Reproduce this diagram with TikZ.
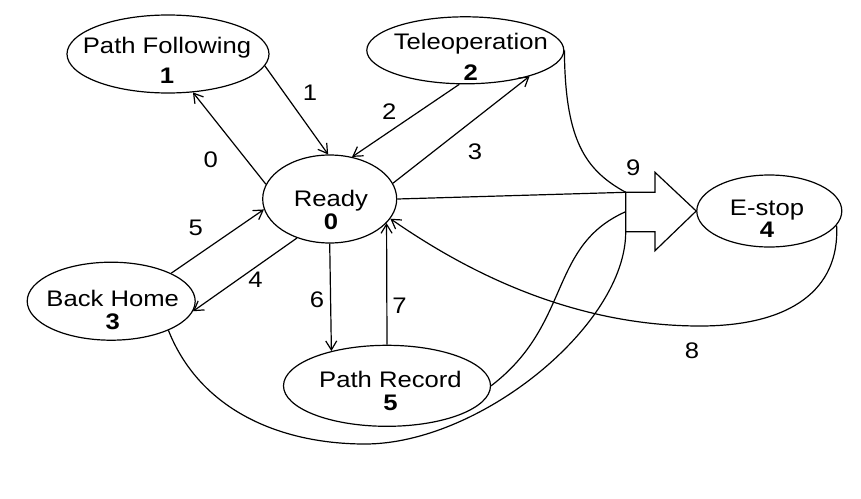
\documentclass[tikz,border=0pt]{standalone}
\usepackage{fontspec}
\setmainfont{Liberation Sans}[FakeStretch=1.14]
\usetikzlibrary{arrows.meta,shapes.geometric}

\begin{document}
\begin{tikzpicture}[x=1pt, y=-1pt, line width=1.2pt, >={Straight Barb[length=9pt,width=11pt]},
    estado/.style={draw, ellipse, inner sep=0pt},
    texto/.style={font=\fontsize{22.5}{23}\selectfont, align=center, inner sep=0pt},
    etiqueta/.style={font=\fontsize{22.5}{23}\selectfont, inner sep=0pt}]
            \useasboundingbox (0,0) rectangle (861,498);

            % Estados
            \node[estado, minimum width=202pt, minimum height=78pt] (seguir) at (168,54) {};
            \node[estado, minimum width=197pt, minimum height=67pt] (teleop) at (465.3,50.3) {};
            \node[estado, minimum width=134pt, minimum height=88pt] (listo) at (329.7,199) {};
            \node[estado, minimum width=145pt, minimum height=72pt] (parada) at (769.3,211) {};
            \node[estado, minimum width=168pt, minimum height=78pt] (casa) at (111.2,301.2) {};
            \node[estado, minimum width=207pt, minimum height=81pt] (grabar) at (387,385.8) {};

            \node[texto] (seguirT) at (167,60) {Path Following\\[7pt]\textbf{1}};
            \node[texto] (teleopT) at (470.8,56.5) {Teleoperation\\[7.7pt]\textbf{2}};
            \node[texto] (listoT) at (331,210) {Ready\\\textbf{0}};
            \node[texto] (paradaT) at (767,219.2) {E-stop\\[-1pt]\textbf{4}};
            \node[texto] (casaT) at (112.7,310) {Back Home\\\textbf{3}};
            \node[texto] (grabarT) at (390.5,391.3) {Path Record\\\textbf{5}};

            % Flecha grande hacia E-stop
            \coordinate (f1) at (625.7,192.3);
            \coordinate (f2) at (625.7,211.7);
            \coordinate (f3) at (625.7,231.7);
            \draw (f1) -- (655,192.3) -- (655,172.3) -- (parada.west) -- (655,250.7) -- (655,231.7) -- (f3) -- cycle;

            % Transiciones
            \draw[->] (listo.167) -- (seguir.-57);
            \draw[->] (seguir.-7) -- (listo.92);
            \draw[->] (teleop.-100) -- (listo.62);
            \draw[->] (listo.14) -- (teleop.-22);
            \draw[->] (casa.25) -- (listo.189);
            \draw[->] (listo.230) -- (casa.-7);
            \draw[->] (listo.270) -- (grabar.148);
            \draw[->] (grabar.90) -- (listo.-23);
            \draw[->] (parada.-12) .. controls (840,290) and (790,326) .. (700,326)
                .. controls (560,326) and (450,260) .. (listo.-18);

            \draw (listo.east) -- (f1);
            \draw (teleop.east) .. controls (565,140) and (585,170) .. (f1);
            \draw (grabar.east) .. controls (572,324) and (548,246) .. (f2);
            \draw (casa.-27) .. controls (200,410) and (280,444) .. (365,444)
                .. controls (480,444) and (626,325) .. (f3);

            % Etiquetas
            \node[etiqueta] (e0) at (210.7,159.3) {0};
            \node[etiqueta] (e1) at (310,92.7) {1};
            \node[etiqueta] (e2) at (389.3,111.7) {2};
            \node[etiqueta] (e3) at (475,151.7) {3};
            \node[etiqueta] (e4) at (255.4,280) {4};
            \node[etiqueta] (e5) at (195.7,227.7) {5};
            \node[etiqueta] (e6) at (317,299.3) {6};
            \node[etiqueta] (e7) at (399.6,306) {7};
            \node[etiqueta] (e8) at (692,351) {8};
            \node[etiqueta] (e9) at (633.3,167.7) {9};
        \end{tikzpicture}
\end{document}
